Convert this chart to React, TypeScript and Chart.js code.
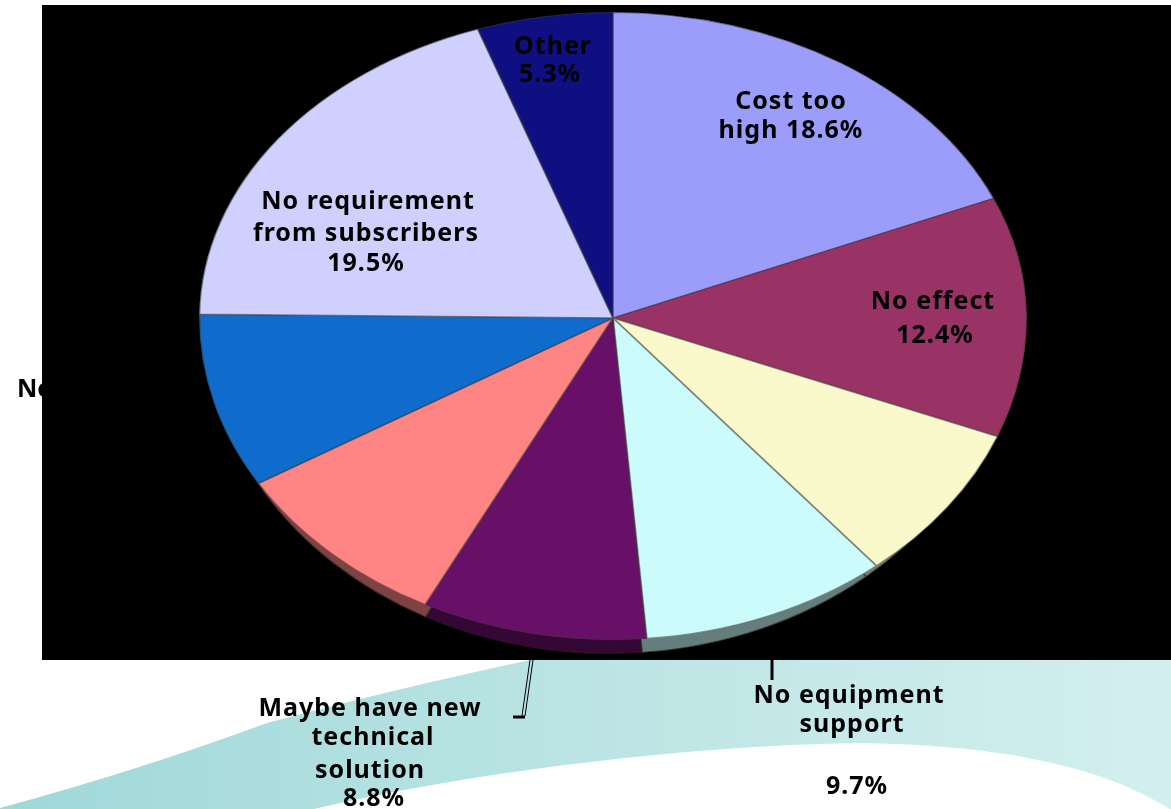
import React, { useEffect, useRef } from "react";
import { Chart, registerables } from "chart.js";

Chart.register(...registerables);

// Share of answers per reason, clockwise from twelve o'clock.
const reasons = [
  "Cost too high",
  "No effect",
  "Unlabelled A",
  "No equipment support",
  "Maybe have new technical solution",
  "Unlabelled B",
  "No",
  "No requirement from subscribers",
  "Other",
];
const shares = [18.6, 12.4, 8.0, 9.7, 8.8, 8.9, 8.8, 19.5, 5.3];
const sliceColors = [
  "#9c9cfb",
  "#993366",
  "#f9f9cb",
  "#ccfbfb",
  "#680f68",
  "#ff8484",
  "#0f6ccc",
  "#d0d0ff",
  "#0f0f82",
];

const WIDTH = 1171;
const HEIGHT = 809;
const FONT = '"Noto Sans", sans-serif';

// Free-standing captions: text, centre x, baseline y.
const captions: [string, number, number][] = [
  ["Cost too", 791, 109],
  ["high 18.6%", 791, 138],
  ["Other", 553, 54],
  ["5.3%", 550, 82],
  ["No requirement", 368, 209],
  ["from subscribers", 366, 241],
  ["19.5%", 366, 271],
  ["No effect", 933, 309],
  ["12.4%", 935, 343],
  ["Maybe have new", 370, 716],
  ["technical", 373, 745],
  ["solution", 370, 778],
  ["8.8%", 374, 806],
  ["No equipment", 849, 703],
  ["support", 852, 732],
  ["9.7%", 857, 794],
];

// Teal ribbon behind the figure.
function drawRibbon(ctx: CanvasRenderingContext2D) {
  const g = ctx.createLinearGradient(0, 0, WIDTH, 0);
  g.addColorStop(0, "#9fd8d9");
  g.addColorStop(0.5, "#bce4e4");
  g.addColorStop(1, "#d4efef");
  ctx.fillStyle = g;
  ctx.beginPath();
  ctx.moveTo(0, 808);
  ctx.quadraticCurveTo(140, 770, 267, 723);
  ctx.quadraticCurveTo(390, 690, 530, 660);
  ctx.lineTo(1171, 600);
  ctx.lineTo(1171, 810);
  ctx.bezierCurveTo(1110, 770, 1010, 745, 860, 743);
  ctx.bezierCurveTo(700, 745, 480, 770, 314, 809);
  ctx.lineTo(0, 809);
  ctx.closePath();
  ctx.fill();
}

// Tilted pie: upper and lower halves have slightly different depth.
function drawArcs(
  ctx: CanvasRenderingContext2D,
  arcs: any[],
  cx: number,
  cy: number,
  rx: number,
  ryTop: number,
  ryBottom: number,
) {
  const first = arcs[0];
  const r = first.outerRadius;
  const halves: [number, number, number][] = [
    [0, cy, ryTop],
    [cy, HEIGHT - cy, ryBottom],
  ];
  for (const [top, h, ry] of halves) {
    ctx.save();
    ctx.beginPath();
    ctx.rect(0, top, WIDTH, h);
    ctx.clip();
    ctx.translate(cx, cy);
    ctx.scale(rx / r, ry / r);
    ctx.translate(-first.x, -first.y);
    arcs.forEach((a) => a.draw(ctx));
    ctx.restore();
  }
}

const tiltedPie = {
  id: "tiltedPie",
  beforeDraw(chart: any) {
    const ctx: CanvasRenderingContext2D = chart.ctx;
    ctx.save();
    ctx.fillStyle = "#ffffff";
    ctx.fillRect(0, 0, WIDTH, HEIGHT);
    drawRibbon(ctx);
    ctx.fillStyle = "#000000";
    ctx.font = `bold 25px ${FONT}`;
    ctx.textAlign = "left";
    ctx.fillText("No", 17, 397);
    ctx.fillRect(42, 5, WIDTH - 42, 655);
    ctx.restore();
  },
  beforeDatasetsDraw(chart: any) {
    const ctx: CanvasRenderingContext2D = chart.ctx;
    const arcs = chart.getDatasetMeta(0).data;
    // Darkened copy first, showing as the pie's lower rim.
    ctx.save();
    ctx.filter = "brightness(0.5)";
    drawArcs(ctx, arcs, 609, 318, 404, 300, 336);
    ctx.restore();
    drawArcs(ctx, arcs, 613, 318, 414, 306, 322);
    return false;
  },
  afterDraw(chart: any) {
    const ctx: CanvasRenderingContext2D = chart.ctx;
    ctx.save();
    ctx.fillStyle = "#000000";
    ctx.font = `bold 25px ${FONT}`;
    ctx.textAlign = "center";
    (ctx as any).letterSpacing = "1px";
    captions.forEach(([t, x, y]) => ctx.fillText(t, x, y));
    // Leader lines to the outside captions.
    ctx.strokeStyle = "#000000";
    ctx.lineWidth = 3;
    ctx.beginPath();
    ctx.moveTo(772, 660);
    ctx.lineTo(772, 680);
    ctx.stroke();
    ctx.lineWidth = 1;
    ctx.beginPath();
    ctx.moveTo(530, 660);
    ctx.lineTo(522, 716);
    ctx.moveTo(533, 660);
    ctx.lineTo(525, 716);
    ctx.stroke();
    ctx.lineWidth = 3;
    ctx.beginPath();
    ctx.moveTo(513, 717);
    ctx.lineTo(525, 717);
    ctx.stroke();
    ctx.restore();
  },
};

export default function App() {
  const ref = useRef<HTMLCanvasElement>(null);
  useEffect(() => {
    const chart = new Chart(ref.current!, {
      type: "pie",
      data: {
        labels: reasons,
        datasets: [
          {
            data: shares,
            backgroundColor: sliceColors,
            borderColor: "rgba(60,60,60,0.55)",
            borderWidth: 1,
            borderAlign: "inner",
          },
        ],
      },
      options: {
        responsive: false,
        animation: false,
        layout: { padding: 0 },
        plugins: { legend: { display: false }, tooltip: { enabled: false } },
      },
      plugins: [tiltedPie],
    });
    return () => chart.destroy();
  }, []);
  return (
    <canvas
      ref={ref}
      width={WIDTH}
      height={HEIGHT}
      style={{ position: "fixed", left: 0, top: 0, width: WIDTH, height: HEIGHT }}
    />
  );
}
